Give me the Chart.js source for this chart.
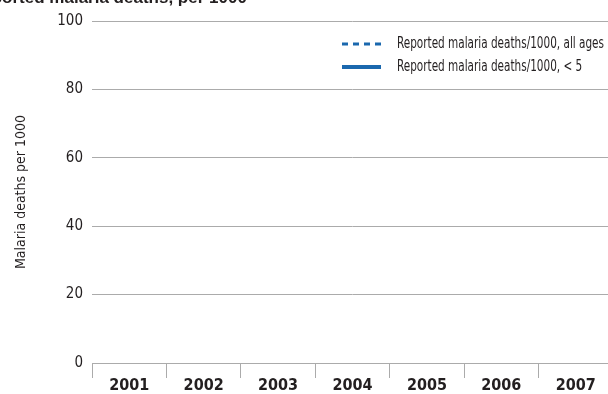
<!DOCTYPE html>
<html>
<head>
<meta charset="utf-8">
<script src="https://cdn.jsdelivr.net/npm/chart.js@4.4.1/dist/chart.umd.min.js"></script>
<style>
  html, body { margin: 0; padding: 0; background: #fff; overflow: hidden; }
  #wrap { position: relative; width: 614px; height: 394px; }
  #title {
    position: absolute; left: -30px; top: -11px;
    font: bold 17px "Liberation Sans", Arial, sans-serif; line-height: 17px;
    color: #231f20; white-space: nowrap;
  }
</style>
</head>
<body>
<div id="wrap">
  <canvas id="malariaChart" width="614" height="394"></canvas>
  <div id="title">Reported malaria deaths, per 1000</div>
</div>
<script>
const years = ["2001", "2002", "2003", "2004", "2005", "2006", "2007"];
// no values are plotted in the source chart
const deathsAllAges = [null, null, null, null, null, null, null];
const deathsUnder5 = [null, null, null, null, null, null, null];
const yMin = 0;
const yMax = 100;
const yStep = 20;

const narrow = '"Liberation Sans Narrow", "DejaVu Sans Condensed", "Roboto", sans-serif';
const blue = "#1a68ae";
const grey = "#ababab";
const ink = "#231f20";

// legend drawn by hand so the two rows line up at the top right
const rowLegend = {
  id: "rowLegend",
  afterDraw(chart, args, opts) {
    const ctx = chart.ctx;
    const sets = chart.data.datasets;
    ctx.save();
    ctx.font = opts.font;
    ctx.fillStyle = ink;
    ctx.textBaseline = "middle";
    // squeeze the text to the width of the condensed face in the original
    const squeeze = opts.textWidth / ctx.measureText(sets[0].label).width;
    sets.forEach((ds, i) => {
      const y = opts.top + i * opts.rowGap;
      ctx.beginPath();
      ctx.strokeStyle = ds.borderColor;
      ctx.lineWidth = ds.borderWidth;
      ctx.setLineDash(ds.borderDash || []);
      ctx.moveTo(opts.left, y);
      ctx.lineTo(opts.left + opts.sampleWidth, y);
      ctx.stroke();
      ctx.setLineDash([]);
      ctx.save();
      ctx.translate(opts.textLeft, y);
      ctx.scale(squeeze, 1);
      ctx.fillText(ds.label, 0, 0);
      ctx.restore();
    });
    ctx.restore();
  },
};

new Chart(document.getElementById("malariaChart"), {
  type: "line",
  data: {
    labels: years,
    datasets: [
      {
        label: "Reported malaria deaths/1000, all ages",
        data: deathsAllAges,
        borderColor: blue,
        borderWidth: 3,
        borderDash: [6, 5],
        pointRadius: 0,
      },
      {
        label: "Reported malaria deaths/1000, < 5",
        data: deathsUnder5,
        borderColor: blue,
        borderWidth: 4,
        pointRadius: 0,
      },
    ],
  },
  options: {
    responsive: false,
    animation: false,
    layout: { padding: { top: 21, right: 1, left: 0, bottom: 0 } },
    plugins: {
      legend: { display: false },
      tooltip: { enabled: false },
      rowLegend: {
        left: 342,
        sampleWidth: 39,
        textLeft: 397,
        textWidth: 207,
        top: 44,
        rowGap: 23,
        font: '16px ' + narrow,
      },
    },
    scales: {
      x: {
        offset: true,
        grid: {
          offset: true,
          drawOnChartArea: false,
          drawTicks: true,
          tickLength: 15,
          color: grey,
        },
        border: { display: true, color: grey },
        ticks: {
          padding: 0,
          color: ink,
          font: { family: narrow, size: 16, weight: "bold", lineHeight: 1 },
        },
        afterFit(scale) { scale.height = 31; },
      },
      y: {
        min: yMin,
        max: yMax,
        grid: { drawTicks: false, color: grey },
        border: { display: false },
        ticks: {
          stepSize: yStep,
          padding: 9,
          color: ink,
          font: { family: narrow, size: 15 },
        },
        title: {
          display: true,
          text: "Malaria deaths per 1000",
          color: ink,
          padding: { top: 13, bottom: 0 },
          font: { family: narrow, size: 14 },
        },
        afterFit(scale) { scale.width = 92; },
      },
    },
  },
  plugins: [rowLegend],
});
</script>
</body>
</html>
